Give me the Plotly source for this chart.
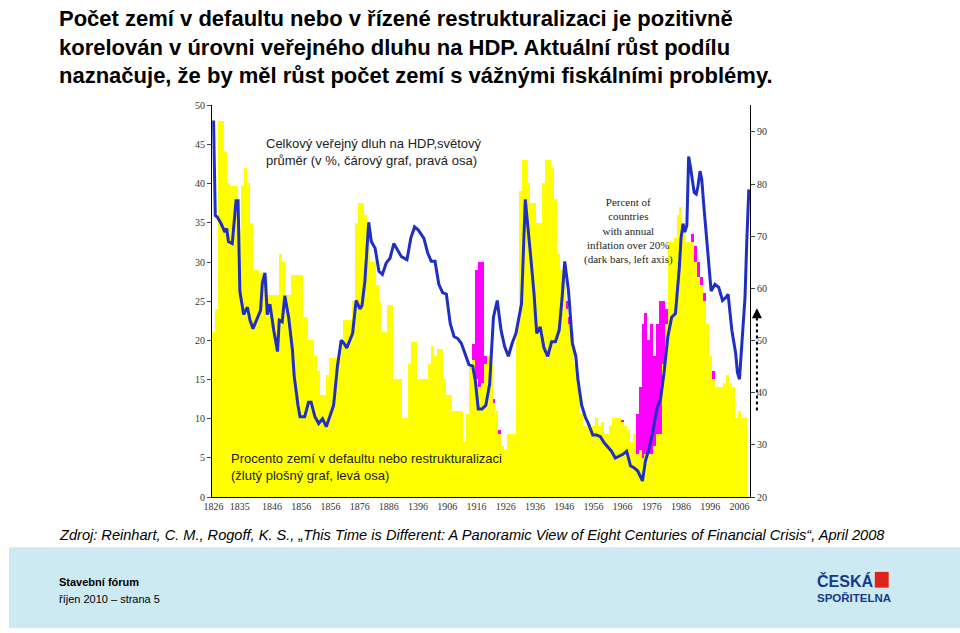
import plotly.graph_objects as go

# share of countries in default / restructuring (yellow, left axis), one value per year 1826-2008
default_years = list(range(1826, 2009))
default_pct = [
    21, 24, 48, 48, 44, 40, 39.6, 39.6, 39.6, 34,
    39.6, 42, 40, 35, 29, 29, 28.5, 28.5, 28, 25.8,
    25.8, 25.8, 25.8, 31, 30, 25.8, 25.8, 28.3, 28.3, 28.3,
    28.3, 23, 23, 20, 20, 18, 16, 13, 13, 15.5,
    17.7, 17.7, 17.7, 17.7, 19.7, 22.5, 22.5, 22.5, 25, 35,
    37.5, 37.5, 36, 33, 30, 30, 27, 25, 21, 21,
    24.5, 24.5, 15, 15, 15, 10, 10, 17, 19.7, 19.7,
    15, 15, 15, 15, 17, 19.3, 18, 18.8, 18.8, 15,
    13, 13, 11, 11, 11, 11, 7, 10.5, 17, 17.5,
    15, 14, 14.5, 17, 18, 17, 12, 11, 8, 6.5,
    6, 8, 8, 8, 22, 39, 43, 43, 40, 37.5,
    37.5, 35, 35, 40, 43, 43, 42, 38, 31, 29,
    29, 24, 22, 21, 17, 15, 10.5, 9, 9, 8.5,
    9, 10, 9, 9.5, 8, 8, 9, 10, 10, 10,
    9.5, 9, 8.5, 7, 8, 5.5, 6, 5, 5.5, 5.5,
    5.5, 6.5, 8, 8, 17, 22, 32.5, 32.5, 33, 36,
    37, 35, 32.5, 32.5, 32.5, 30, 28, 27, 25, 22,
    18, 15, 14, 14, 14, 14.5, 15.5, 14.5, 14, 10,
    11, 10, 10,
]

# countries with inflation over 20% (magenta, left axis)
infl_years = [1915, 1916, 1917, 1918, 1919, 1920, 1922, 1924,
              1946, 1947, 1948, 1956, 1959, 1963, 1966, 1968,
              1971, 1972, 1973, 1974, 1975, 1976, 1977, 1978, 1979, 1980, 1981,
              1990, 1991, 1992, 1993, 1994, 1995, 1996, 1997, 1998, 1999]
infl_pct = [19.5, 29, 30, 30, 18, 15, 12.5, 8.5,
            29, 25, 23, 7.5, 8, 8, 9.8, 7.5,
            10.5, 14, 22, 23.5, 20, 22, 18, 22, 25, 25, 24,
            33.5, 32, 30, 28, 26, 22, 18, 16, 14, 11.5]

# world average public debt / GDP (blue line, right axis)
debt_years = [
    1826.0, 1826.6, 1827.3, 1828.6, 1829.9, 1830.5, 1831.1, 1832.4, 1833.7, 1834.4,
    1835.0, 1835.6, 1836.3, 1837.6, 1838.5, 1839.5, 1840.8, 1842.1, 1842.7, 1843.6,
    1844.4, 1845.3, 1846.6, 1847.9, 1848.5, 1849.5, 1850.4, 1851.7, 1853.0, 1853.6,
    1854.9, 1855.6, 1857.2, 1858.5, 1859.4, 1860.7, 1862.0, 1863.3, 1864.6, 1865.8,
    1867.1, 1868.4, 1869.7, 1870.6, 1871.6, 1873.6, 1874.8, 1876.1, 1876.8, 1877.8,
    1879.1, 1880.0, 1881.3, 1882.6, 1883.8, 1885.1, 1886.4, 1887.7, 1889.0, 1890.3,
    1892.2, 1893.5, 1894.8, 1896.1, 1898.0, 1899.3, 1900.5, 1901.8, 1903.1, 1904.4,
    1905.7, 1907.0, 1908.3, 1909.6, 1910.8, 1912.1, 1913.4, 1914.7, 1915.6, 1916.6,
    1917.9, 1919.2, 1920.5, 1921.8, 1923.1, 1924.4, 1925.6, 1926.9, 1928.2, 1929.5,
    1931.4, 1932.7, 1933.6, 1934.7, 1935.7, 1936.6, 1937.8, 1939.1, 1940.4, 1941.7,
    1943.0, 1944.3, 1945.3, 1946.2, 1947.5, 1948.8, 1950.0, 1950.7, 1952.0, 1953.2,
    1954.5, 1955.8, 1957.1, 1958.4, 1959.7, 1960.9, 1962.2, 1963.5, 1964.8, 1966.1,
    1967.4, 1968.7, 1970.0, 1971.2, 1972.8, 1973.8, 1975.1, 1976.4, 1977.7, 1979.0,
    1980.2, 1981.5, 1982.8, 1984.1, 1985.4, 1986.0, 1986.7, 1987.3, 1988.0, 1988.6,
    1989.2, 1990.5, 1991.2, 1991.8, 1992.5, 1993.1, 1993.7, 1995.0, 1996.3, 1997.6,
    1998.9, 2000.2, 2001.4, 2002.1, 2003.4, 2004.7, 2005.3, 2006.0, 2006.6, 2007.9,
    2008.5, 2009.2,
]
debt_pct = [
    92.2, 74, 73.7, 72.4, 70.8, 71.5, 69, 68.6, 76.8, 76.8,
    59.5, 57, 55, 56.4, 53.9, 52.3, 53.9, 55.8, 61, 63,
    55, 57, 52, 47.9, 53.9, 53.6, 58.6, 54.5, 48.2, 43.2,
    37.6, 35.4, 35.4, 38.2, 38.2, 35.4, 34.1, 35, 33.5, 35.4,
    37.6, 45.1, 50.1, 49.5, 48.6, 51.4, 57.7, 56.1, 56.7, 61.4,
    72.7, 69, 67.7, 63.3, 62.7, 64.9, 65.8, 68.6, 67.4, 66.1,
    65.5, 69.6, 71.8, 71.2, 69.6, 66.8, 65.2, 65.2, 60.8, 59.2,
    58.9, 53.3, 50.8, 50.4, 49.5, 47.6, 45.4, 45.1, 42.3, 36.9,
    36.9, 37.6, 41.7, 54.5, 57.7, 52, 48.9, 47, 49.5, 51.4,
    57, 77.1, 72.1, 65.2, 58.9, 51.4, 52.6, 48.6, 47, 49.8,
    49.8, 52, 58.3, 65.2, 59.5, 49.5, 47, 42.6, 37.6, 35.4,
    33.8, 31.9, 31.9, 31.6, 30.4, 29.7, 28.8, 27.5, 27.8, 28.2,
    28.8, 26, 25.6, 25, 23.1, 26.9, 29.4, 32.6, 36.9, 38.8,
    43.9, 50.8, 54.5, 55.2, 63.9, 69.6, 72.4, 70.8, 72.1, 85.3,
    83.4, 78.4, 78.1, 79.6, 82.5, 80.9, 76.5, 68.3, 59.5, 60.8,
    60.2, 57.7, 58.3, 58.9, 52, 47.6, 43.9, 42.6, 47, 58.3,
    69, 79,
]

tick_years = [1826, 1835, 1846, 1856, 1866, 1876, 1886, 1896, 1906, 1916,
              1926, 1936, 1946, 1956, 1966, 1976, 1986, 1996, 2006]
tick_labels = ["1826", "1835", "1846", "1856", "1856", "1876", "1886", "1396", "1906", "1916",
               "1926", "1936", "1946", "1956", "1966", "1976", "1986", "1996", "2006"]

fig = go.Figure()
fig.add_trace(go.Bar(x=infl_years, y=infl_pct, width=1, marker=dict(color="#ff00ff", line_width=0)))
fig.add_trace(go.Bar(x=default_years, y=default_pct, width=1, marker=dict(color="#ffff00", line_width=0)))
fig.add_trace(go.Scatter(x=debt_years, y=debt_pct, yaxis="y2", mode="lines",
                         line=dict(color="#1f2fc4", width=3)))

serif = dict(family="Liberation Serif", size=10, color="#333")
fig.update_layout(
    width=960, height=633, showlegend=False, barmode="overlay", bargap=0,
    paper_bgcolor="white", plot_bgcolor="white",
    margin=dict(l=0, r=0, t=0, b=0),
    xaxis=dict(domain=[205 / 960, 748 / 960], range=[1825.5, 2009.6],
               tickmode="array", tickvals=tick_years, ticktext=tick_labels,
               tickfont=serif, showgrid=False, showline=True, linecolor="black",
               ticks="", zeroline=False),
    yaxis=dict(domain=[133 / 633, 531 / 633], range=[0, 50], dtick=5,
               tickfont=serif, showgrid=False, showline=True, linecolor="black",
               ticks="outside", ticklen=4, zeroline=False),
    yaxis2=dict(overlaying="y", side="right", range=[20, 95.1],
                tickvals=[20, 30, 40, 50, 60, 70, 80, 90], tickfont=serif,
                showgrid=False, showline=True, linecolor="black",
                ticks="outside", ticklen=4, zeroline=False),
)

# footer band
fig.add_shape(type="rect", xref="paper", yref="paper", x0=0, x1=1, y0=0, y1=82 / 633,
              fillcolor="#cdeaf2", line_width=0, layer="below")

# dotted arrow at the right end
fig.add_shape(type="line", xref="paper", yref="paper", x0=755 / 960, x1=755 / 960,
              y0=1 - 412 / 633, y1=1 - 316 / 633,
              line=dict(color="black", width=2, dash="dot"))
fig.add_annotation(x=755 / 960, y=1 - 308 / 633, xref="paper", yref="paper",
                   ax=0, ay=10, text="", showarrow=True, arrowhead=2, arrowsize=1,
                   arrowwidth=2, arrowcolor="black")

def txt(x, y, s, size, color="black", family="Liberation Sans", align="left", anchor="left", **kw):
    fig.add_annotation(x=x / 960, y=1 - y / 633, xref="paper", yref="paper", text=s,
                       showarrow=False, xanchor=anchor, yanchor="top", align=align,
                       font=dict(size=size, color=color, family=family), **kw)

txt(48, -1, "<b>Počet zemí v defaultu nebo v řízené restrukturalizaci je pozitivně<br>"
            "korelován v úrovni veřejného dluhu na HDP. Aktuální růst podílu<br>"
            "naznačuje, že by měl růst počet zemí s vážnými fiskálními problémy.</b>", 22)
txt(257, 131, "Celkový veřejný dluh na HDP,světový<br>průměr (v %, čárový graf, pravá osa)", 13, "#222")
txt(222, 451, "Procento zemí v defaultu nebo restrukturalizaci<br>(žlutý plošný graf, levá osa)", 13, "#222")
txt(625, 192, "Percent of<br>countries<br>with annual<br>inflation over 20%<br>(dark bars, left axis)",
    11, "#222", "Liberation Serif", align="center", anchor="center")
txt(48, 528, "<i>Zdroj: Reinhart, C. M., Rogoff, K. S., „This Time is Different: A Panoramic View of "
             "Eight Centuries of Financial Crisis“, April 2008</i>", 14.6)
txt(48, 578, "<b>Stavební fórum</b>", 11)
txt(48, 595, "říjen 2010 – strana 5", 11)
txt(814, 574, "<b>ČESKÁ</b>", 16, "#123a8c")
txt(814, 594, "<b>SPOŘITELNA</b>", 11.5, "#123a8c")
fig.add_shape(type="rect", xref="paper", yref="paper", x0=874 / 960, x1=888 / 960,
              y0=1 - 592 / 633, y1=1 - 576 / 633, fillcolor="#e2231a", line_width=0)

fig.write_html("out.html", config={"displayModeBar": False},
               post_script="document.body.style.margin='0';document.body.style.overflow='hidden';")
